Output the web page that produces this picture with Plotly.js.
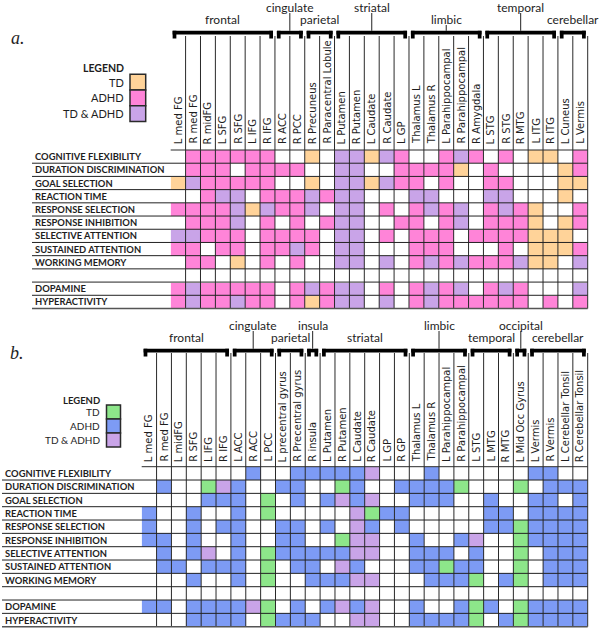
<!DOCTYPE html>
<html><head><meta charset="utf-8">
<script src="https://cdn.plot.ly/plotly-3.0.1.min.js"></script>
<style>html,body{margin:0;padding:0;background:#fff}#chart{width:602px;height:628px}</style>
</head><body><div id="chart"></div>
<script>
// ---------------- DATA ----------------
// cell codes: 0 = none, 1 = TD, 2 = ADHD, 3 = TD & ADHD
const rowLabels = ['COGNITIVE FLEXIBILITY','DURATION DISCRIMINATION','GOAL SELECTION','REACTION TIME',
  'RESPONSE SELECTION','RESPONSE INHIBITION','SELECTIVE ATTENTION','SUSTAINED ATTENTION',
  'WORKING MEMORY','','DOPAMINE','HYPERACTIVITY'];
const legendLabels = ['TD','ADHD','TD & ADHD'];

const colsA = ['L med FG','R med FG','R midFG','L SFG','R SFG','L IFG','R IFG','R ACC','R PCC',
  'R Precuneus','R Paracentral Lobule','L Putamen','R Putamen','L Caudate','R Caudate','L GP',
  'Thalamus L','Thalamus R','L Parahippocampal','R Parahippocampal','R Amygdala','L STG','R STG',
  'R MTG','L ITG','R ITG','L Cuneus','L Vermis'];
const groupsA = [['frontal',0,6,'low'],['cingulate',7,8,'high'],['parietal',9,10,'low'],
  ['striatal',11,15,'high'],['limbic',16,20,'low'],['temporal',21,25,'high'],['cerebellar',26,27,'low']];
const zA = [
  [0,2,2,2,2,2,2,0,0,1,0,3,3,1,3,2,0,0,2,3,2,0,2,0,1,1,0,2],
  [0,2,2,2,0,2,2,2,2,0,0,3,3,0,0,2,2,2,2,1,0,2,0,0,0,0,1,2],
  [1,3,2,2,2,2,2,0,0,1,0,3,3,1,3,2,2,0,2,0,0,2,2,0,0,0,1,1],
  [0,0,2,3,3,0,2,2,2,3,2,3,3,0,0,0,3,3,0,0,0,3,3,0,0,0,1,0],
  [2,2,2,2,3,1,3,2,2,3,0,3,3,0,2,0,2,3,2,3,0,2,3,2,1,0,0,2],
  [0,2,2,2,3,0,2,0,2,0,2,3,3,0,0,2,2,0,2,3,0,2,2,2,1,0,1,2],
  [3,3,2,2,2,0,2,2,2,2,0,3,3,0,2,0,2,2,2,0,2,2,2,2,1,1,1,0],
  [2,2,0,2,2,0,2,2,3,2,0,3,3,0,0,0,2,2,2,0,0,0,2,0,1,1,1,2],
  [0,2,2,0,1,0,2,0,2,0,0,3,3,0,3,0,2,3,2,3,2,2,2,3,1,1,0,3],
  [0,0,0,0,0,0,0,0,0,0,0,0,0,0,0,0,0,0,0,0,0,0,0,0,0,0,0,0],
  [2,3,2,2,2,2,2,0,2,3,2,3,3,0,2,0,2,3,2,3,0,2,3,2,0,0,0,3],
  [2,3,2,2,3,2,2,0,2,1,2,3,3,0,3,0,2,3,2,2,2,2,2,2,0,2,0,2]
];

const colsB = ['L med FG','R med FG','L midFG','R SFG','L IFG','R IFG','L ACC','R ACC','L PCC',
  'L precentral gyrus','R Precentral gyrus','R insula','L Putamen','R Putamen','L Caudate','R Caudate',
  'L GP','R GP','Thalamus L','Thalamus R','L Parahippocampal','R Parahippocampal','L STG','L MTG',
  'R MTG','L Mid Occ Gyrus','L Vermis','R Vermis','L Cerebellar Tonsil','R Cerebellar Tonsil'];
const groupsB = [['frontal',0,5,'low'],['cingulate',6,8,'high'],['parietal',9,10,'low'],
  ['insula',11,11,'high'],['striatal',12,17,'low'],['limbic',18,21,'high'],['temporal',22,24,'low'],
  ['occipital',25,25,'high'],['cerebellar',26,29,'low']];
const zB = [
  [0,0,0,0,0,0,0,2,0,0,2,2,2,2,2,3,0,0,0,2,0,0,0,0,0,0,2,2,0,0],
  [0,2,0,0,1,3,2,0,0,2,2,0,0,1,2,0,0,2,2,2,2,1,0,0,0,1,0,2,2,2],
  [0,0,0,0,2,2,2,0,1,0,2,0,2,3,2,3,0,0,2,2,2,0,0,2,0,0,2,2,0,2],
  [2,0,0,2,0,0,2,0,1,0,0,0,0,0,3,1,2,2,0,0,0,0,0,2,2,0,2,2,2,2],
  [2,0,0,2,0,2,2,0,0,2,2,0,2,0,3,2,0,2,0,0,0,0,0,2,2,1,2,2,2,2],
  [2,2,0,2,0,0,2,0,0,2,2,0,0,1,3,3,0,0,2,0,0,2,3,0,0,1,2,2,2,2],
  [0,2,0,2,3,0,2,0,1,2,2,2,2,2,3,3,0,0,2,2,2,0,2,0,0,1,0,2,2,2],
  [0,2,2,0,2,2,2,0,1,0,2,2,0,3,2,0,0,0,2,2,1,2,2,0,0,1,0,2,2,2],
  [0,0,0,2,0,0,2,0,1,0,0,2,2,2,3,3,0,0,0,2,2,2,1,0,2,1,0,2,2,2],
  [0,0,0,0,0,0,0,0,0,0,0,0,0,0,0,0,0,0,0,0,0,0,0,0,0,0,0,0,0,0],
  [2,2,0,2,2,2,2,3,1,0,2,0,2,3,2,3,0,0,2,0,0,2,1,2,0,1,2,2,2,2],
  [0,0,0,2,2,2,2,0,1,2,2,2,0,0,3,3,0,0,2,2,2,2,1,0,2,1,2,2,2,2]
];

// ---------------- STYLE / LAYOUT ----------------
const W = 602, H = 628;
const X = p => p / W;
const Y = p => 1 - p / H;
const INK = '#1e1e1e';
const SANS = 'Lato, "Open Sans", sans-serif';
const COLFONT = '"DejaVu Sans", Lato, sans-serif';

const panels = [
  {ax:'', cols:colsA, z:zA, groups:groupsA, letter:'a.',
   colours:['#ffffff','#FFD399','#FF84D8','#C9A4E8'],
   grid:{x0:170.7, x1:587.7, y0:150, y1:308.5},
   lineX:32, labelX:33, colLabelBottom:146, headerTop:36, barTop:30.8, barBot:34.4, legBot:38.5,
   groupY:{high:7, low:19}, letterPos:[9,38],
   legend:{textRight:126, titleY:68, sqX0:130, sqX1:145.7, sqY0:74.3, sq:15.7, font:11}},
  {ax:'2', cols:colsB, z:zB, groups:groupsB, letter:'b.',
   colours:['#ffffff','#8DE68A','#7D9BF5','#C9A4E8'],
   grid:{x0:141.7, x1:587.7, y0:466.7, y1:626.7},
   lineX:2, labelX:3, colLabelBottom:464, headerTop:353, barTop:348.8, barBot:352.4, legBot:356.5,
   groupY:{high:325, low:337.5}, letterPos:[8,353],
   legend:{textRight:102, titleY:400, sqX0:106.5, sqX1:120.5, sqY0:405, sq:14, font:10}}
];

const traces = [], shapes = [], annotations = [];
const layout = {
  width: W, height: H, margin:{l:0,r:0,t:0,b:0},
  paper_bgcolor:'#ffffff', plot_bgcolor:'#ffffff', showlegend:false,
  font:{family:SANS, color:INK}
};

panels.forEach(p => {
  const xa = 'x' + p.ax, ya = 'y' + p.ax;
  const nC = p.cols.length, nR = rowLabels.length;
  const cs = [[0,p.colours[0]],[1/6,p.colours[0]],[1/6,p.colours[1]],[0.5,p.colours[1]],
              [0.5,p.colours[2]],[5/6,p.colours[2]],[5/6,p.colours[3]],[1,p.colours[3]]];
  traces.push({type:'heatmap', z:p.z, xaxis:xa, yaxis:ya, zmin:0, zmax:3,
    colorscale:cs, showscale:false, hoverinfo:'skip'});
  layout['xaxis' + p.ax] = {domain:[X(p.grid.x0), X(p.grid.x1)], range:[-0.5, nC-0.5],
    visible:false, fixedrange:true, anchor:ya};
  layout['yaxis' + p.ax] = {domain:[Y(p.grid.y1), Y(p.grid.y0)], range:[nR-0.5, -0.5],
    visible:false, fixedrange:true, anchor:xa};

  // vertical column lines (grid + header)
  for (let k = 0; k < nC - 1; k++) {
    shapes.push({type:'line', xref:xa, yref:'paper', x0:k+0.5, x1:k+0.5,
      y0:Y(p.grid.y1), y1:Y(p.headerTop), line:{color:'#2a2a2a', width:1}});
  }
  shapes.push({type:'line', xref:xa+' domain', yref:'paper', x0:1, x1:1,
    y0:Y(p.grid.y1), y1:Y(p.headerTop), line:{color:'#2a2a2a', width:1}});
  // top edge of grid
  shapes.push({type:'line', xref:xa+' domain', yref:ya+' domain', x0:0, x1:1, y0:1, y1:1,
    line:{color:'#2a2a2a', width:1}});
  // horizontal row lines, extending under the row labels
  for (let r = 0; r < nR; r++) {
    const last = r === nR - 1;
    shapes.push({type:'line', xref:'paper', yref: last ? ya+' domain' : ya,
      x0:X(p.lineX), x1:X(p.grid.x1), y0: last ? 0 : r+0.5, y1: last ? 0 : r+0.5,
      line:{color: last ? '#555' : '#222', width: last ? 1.6 : 1}});
  }
  // row labels
  rowLabels.forEach((t, r) => {
    if (!t) return;
    annotations.push({xref:'paper', yref:ya, x:X(p.labelX), y:r, xanchor:'left', yanchor:'middle',
      text:'<b>'+t+'</b>', showarrow:false, font:{size:9.4, color:INK}});
  });
  // column labels
  p.cols.forEach((t, c) => {
    annotations.push({xref:xa, yref:'paper', x:c, y:Y(p.colLabelBottom), xanchor:'center',
      yanchor:'bottom', textangle:-90, text:t, showarrow:false,
      font:{family:COLFONT, size:10, color:INK}});
  });
  // brackets (filled bar + two legs) + group names
  const legW = 0.25;
  p.groups.forEach(g => {
    const [name, a, b, lvl] = g;
    const xl = a - 0.37, xr = b + 0.37;
    const blk = {type:'rect', xref:xa, yref:'paper', fillcolor:'#000', line:{width:0}, layer:'above'};
    shapes.push(Object.assign({}, blk, {x0:xl, x1:xr, y0:Y(p.barBot), y1:Y(p.barTop)}));
    shapes.push(Object.assign({}, blk, {x0:xl, x1:xl+legW, y0:Y(p.legBot), y1:Y(p.barTop)}));
    shapes.push(Object.assign({}, blk, {x0:xr-legW, x1:xr, y0:Y(p.legBot), y1:Y(p.barTop)}));
    const cx = (a + b) / 2;
    const gy = p.groupY[lvl];
    annotations.push({xref:xa, yref:'paper', x:cx, y:Y(gy), xanchor:'center', yanchor:'middle',
      text:name, showarrow:false, font:{size:12, color:INK}});
    if (lvl === 'high' || name === 'limbic') {
      shapes.push({type:'line', xref:xa, yref:'paper', x0:cx, x1:cx,
        y0:Y(gy + 6), y1:Y(p.barTop), line:{color:'#222', width:1}});
    }
  });
  // panel letter
  annotations.push({xref:'paper', yref:'paper', x:X(p.letterPos[0]), y:Y(p.letterPos[1]),
    xanchor:'left', yanchor:'middle', showarrow:false, text:'<i>'+p.letter+'</i>',
    font:{family:'"Liberation Serif", "DejaVu Serif", serif', size:18, color:INK}});
  // legend
  const L = p.legend;
  annotations.push({xref:'paper', yref:'paper', x:X(L.textRight), y:Y(L.titleY), xanchor:'right',
    yanchor:'middle', showarrow:false, text:'<b>LEGEND</b>', font:{size:L.font-0.5, color:INK}});
  legendLabels.forEach((t, i) => {
    const y0 = L.sqY0 + i * L.sq;
    shapes.push({type:'rect', xref:'paper', yref:'paper', x0:X(L.sqX0), x1:X(L.sqX1),
      y0:Y(y0 + L.sq), y1:Y(y0), fillcolor:p.colours[i+1], line:{color:'#2a2a2a', width:1.5}});
    annotations.push({xref:'paper', yref:'paper', x:X(L.textRight), y:Y(y0 + L.sq/2), xanchor:'right',
      yanchor:'middle', showarrow:false, text:t, font:{size:L.font, color:INK}});
  });
});

layout.shapes = shapes;
layout.annotations = annotations;
Plotly.newPlot('chart', traces, layout, {staticPlot:true, displayModeBar:false});
</script></body></html>
